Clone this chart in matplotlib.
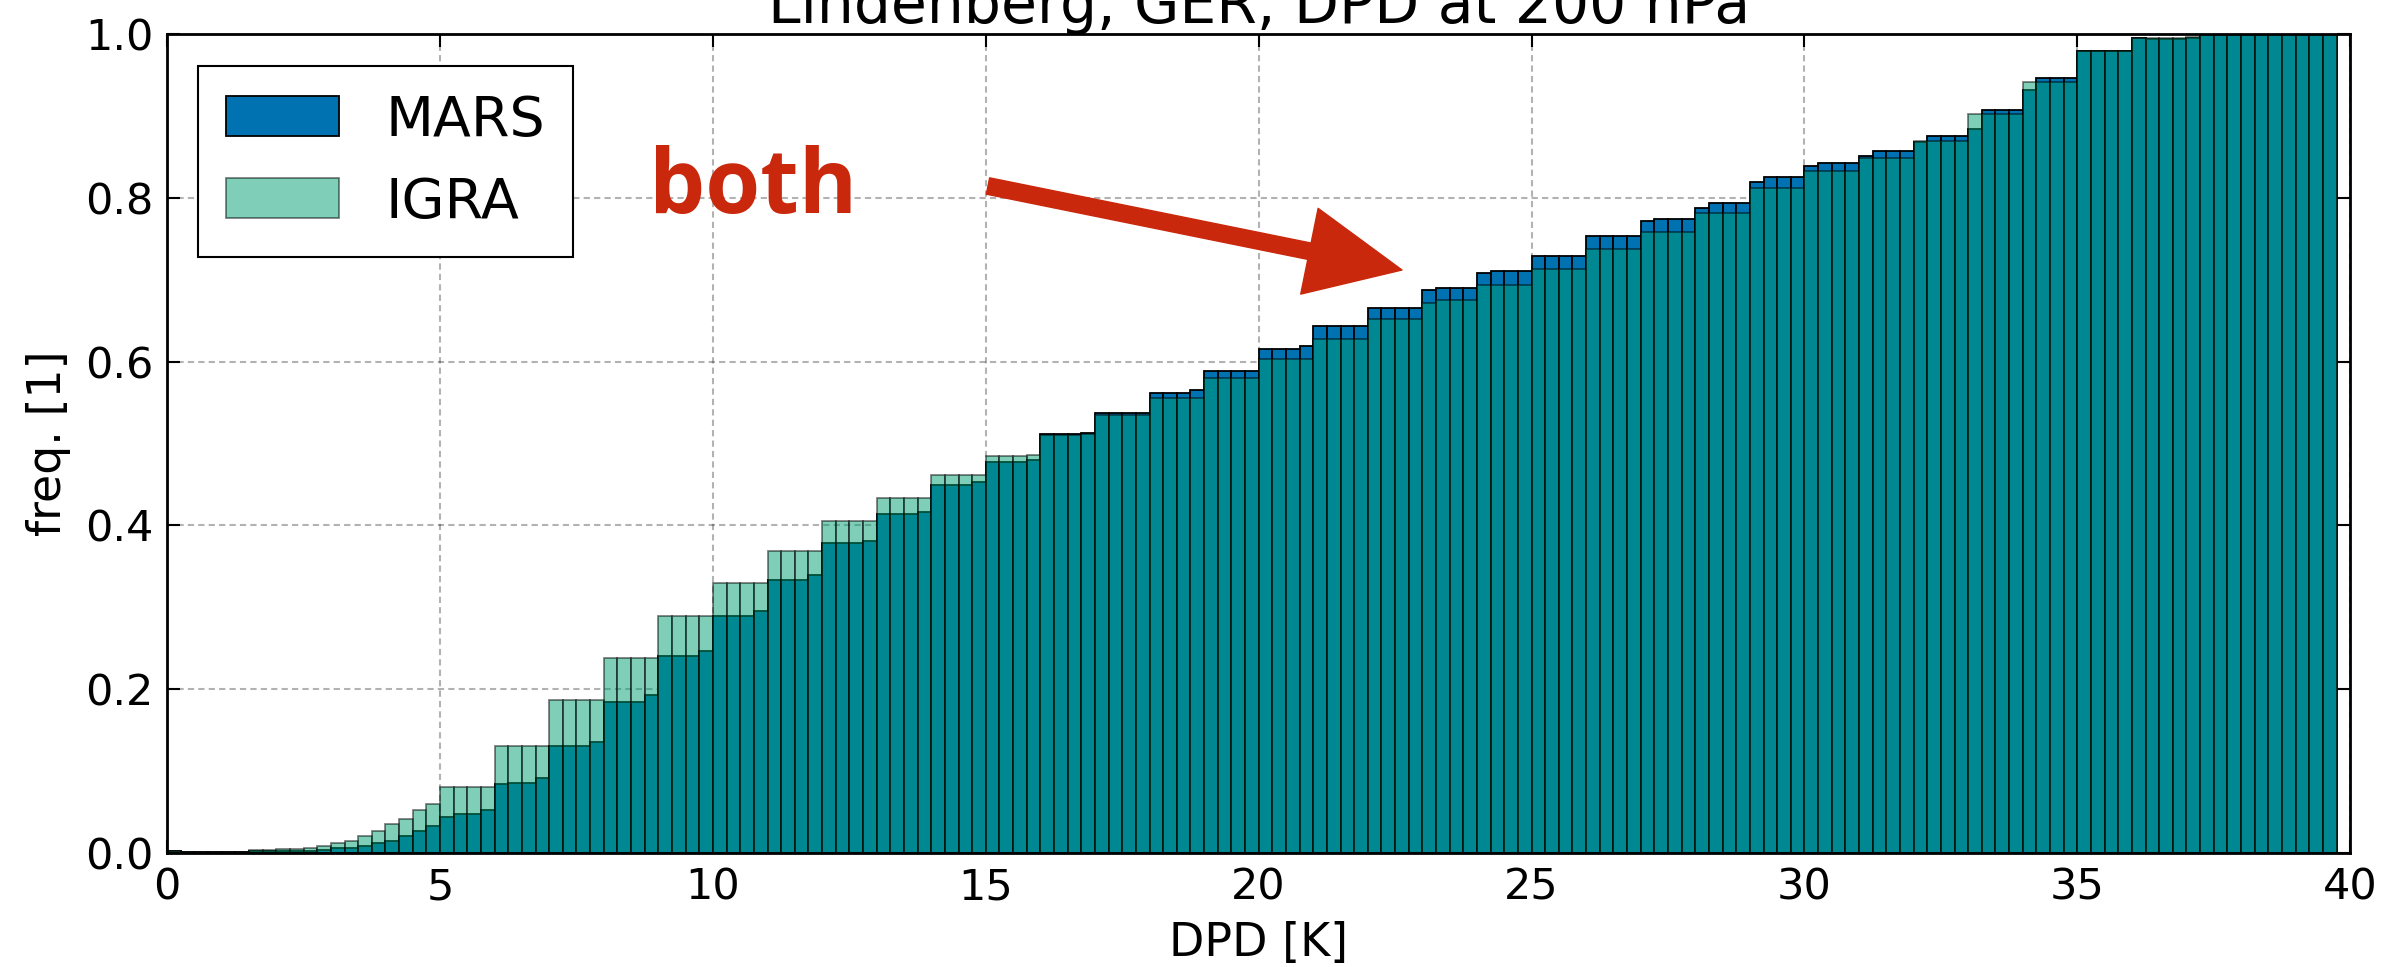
import numpy as np
import matplotlib.pyplot as plt

# cumulative frequency per 0.25 K bin
bin_width = 0.25
mars_cdf = [
    0.003, 0.0015, 0.0015, 0.0015, 0.0015, 0.0015, 0.002, 0.003, 0.003, 0.003,
    0.003, 0.004, 0.006, 0.006, 0.0085, 0.012, 0.015, 0.021, 0.027, 0.033,
    0.044, 0.047, 0.047, 0.053, 0.084, 0.086, 0.086, 0.092, 0.131, 0.131,
    0.131, 0.136, 0.184, 0.184, 0.184, 0.193, 0.241, 0.241, 0.241, 0.247,
    0.289, 0.289, 0.289, 0.295, 0.333, 0.333, 0.333, 0.339, 0.378, 0.378,
    0.378, 0.381, 0.414, 0.414, 0.414, 0.416, 0.449, 0.449, 0.449, 0.453,
    0.477, 0.477, 0.477, 0.480, 0.512, 0.512, 0.512, 0.513, 0.537, 0.537,
    0.537, 0.537, 0.562, 0.562, 0.562, 0.565, 0.589, 0.589, 0.589, 0.589,
    0.616, 0.616, 0.616, 0.619, 0.643, 0.643, 0.643, 0.643, 0.666, 0.666,
    0.666, 0.666, 0.687, 0.690, 0.690, 0.690, 0.708, 0.711, 0.711, 0.711,
    0.729, 0.729, 0.729, 0.729, 0.753, 0.753, 0.753, 0.753, 0.772, 0.774,
    0.774, 0.774, 0.788, 0.794, 0.794, 0.794, 0.819, 0.825, 0.825, 0.825,
    0.839, 0.842, 0.842, 0.842, 0.851, 0.857, 0.857, 0.857, 0.868, 0.875,
    0.875, 0.875, 0.884, 0.907, 0.907, 0.907, 0.932, 0.946, 0.946, 0.946,
    0.979, 0.979, 0.979, 0.979, 0.995, 0.994, 0.994, 0.994, 0.995, 1.0,
    1.0, 1.0, 1.0, 1.0, 1.0, 1.0, 1.0, 1.0, 1.0,
]
igra_cdf = [
    0.002, 0.0015, 0.0015, 0.0015, 0.0015, 0.0015, 0.004, 0.004, 0.005, 0.005,
    0.0065, 0.009, 0.0126, 0.015, 0.021, 0.027, 0.035, 0.041, 0.053, 0.060,
    0.080, 0.080, 0.080, 0.080, 0.131, 0.131, 0.131, 0.131, 0.187, 0.187,
    0.187, 0.187, 0.238, 0.238, 0.238, 0.238, 0.289, 0.289, 0.289, 0.289,
    0.330, 0.330, 0.330, 0.330, 0.369, 0.369, 0.369, 0.369, 0.405, 0.405,
    0.405, 0.405, 0.434, 0.434, 0.434, 0.434, 0.462, 0.462, 0.462, 0.462,
    0.485, 0.485, 0.485, 0.486, 0.511, 0.511, 0.511, 0.512, 0.535, 0.535,
    0.535, 0.535, 0.556, 0.556, 0.556, 0.556, 0.580, 0.580, 0.580, 0.580,
    0.603, 0.603, 0.603, 0.603, 0.628, 0.628, 0.628, 0.628, 0.652, 0.652,
    0.652, 0.652, 0.672, 0.675, 0.675, 0.675, 0.693, 0.693, 0.693, 0.693,
    0.713, 0.713, 0.713, 0.713, 0.737, 0.737, 0.737, 0.737, 0.758, 0.758,
    0.758, 0.758, 0.782, 0.782, 0.782, 0.782, 0.812, 0.812, 0.812, 0.812,
    0.833, 0.833, 0.833, 0.833, 0.849, 0.849, 0.849, 0.849, 0.870, 0.870,
    0.870, 0.870, 0.902, 0.902, 0.902, 0.902, 0.941, 0.941, 0.941, 0.941,
    0.979, 0.979, 0.979, 0.979, 0.995, 0.995, 0.995, 0.995, 0.996, 1.0,
    1.0, 1.0, 1.0, 1.0, 1.0, 1.0, 1.0, 1.0, 1.0,
]

RED = '#c9280c'

fig = plt.figure(figsize=(23.85, 9.67), dpi=100)
ax = fig.add_axes([0.0701, 0.1179, 0.9153, 0.8469])

left = np.arange(len(mars_cdf)) * bin_width
ax.bar(left, mars_cdf, width=bin_width, align='edge', color='#0072b2',
       edgecolor='black', linewidth=1.3, label='MARS', zorder=2)
ax.bar(left, igra_cdf, width=bin_width, align='edge', color='#009e73',
       edgecolor='black', linewidth=1.3, alpha=0.5, label='IGRA', zorder=3)

ax.set_xlim(0, 40)
ax.set_ylim(0, 1)
ax.set_xticks(np.arange(0, 41, 5))
ax.set_yticks(np.arange(0, 1.01, 0.2))
ax.grid(True, color='black', alpha=0.3, linestyle=(0, (3, 2)), linewidth=1.5, zorder=4)
ax.tick_params(direction='in', length=9.5, width=1.5, top=True, right=True,
               labelsize=31, pad=10)
for sp in ax.spines.values():
    sp.set_linewidth(2)
    sp.set_zorder(5)

ax.set_xlabel('DPD [K]', fontsize=33, labelpad=9)
ax.set_ylabel('freq. [1]', fontsize=33, labelpad=10)
# the title sits partly above the canvas, as in the original
ax.set_title('Lindenberg, GER, DPD at 200 hPa', fontsize=42, pad=8)

leg = ax.legend(loc='upper left', bbox_to_anchor=(0.0142, 0.961), borderaxespad=0,
                fontsize=40, fancybox=False, edgecolor='black', framealpha=1,
                handlelength=2.03, handleheight=0.73, handletextpad=0.85,
                labelspacing=0.5, borderpad=0.5)
leg.get_frame().set_linewidth(1.5)
leg.set_zorder(6)

fig.text(649 / 2385, (967 - 213) / 967, 'both', fontsize=64, fontweight='bold',
         color=RED, family='Open Sans', ha='left', va='baseline')
ax.annotate('', xy=(1402, 697), xytext=(988, 781),
            xycoords='figure pixels', textcoords='figure pixels',
            arrowprops=dict(arrowstyle='simple,head_length=68,head_width=63,tail_width=12',
                            mutation_scale=1, color=RED, shrinkA=0, shrinkB=0))

fig.savefig('out.png', dpi=100)
